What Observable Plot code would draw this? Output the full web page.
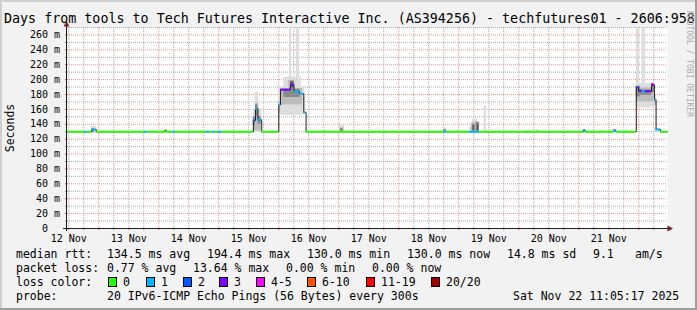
<!DOCTYPE html>
<html><head><meta charset="utf-8">
<script src="https://cdn.jsdelivr.net/npm/d3@7"></script>
<script src="https://cdn.jsdelivr.net/npm/@observablehq/plot@0.6"></script>
<style>
html,body{margin:0;padding:0;background:#f2f2f2;overflow:hidden;}
#chart svg{display:block;}
</style></head><body><div id="chart"></div>
<script>
(function () {
const MONO = "'DejaVu Sans Mono', monospace";

// ---------- data ----------
const startTime = "11-12 11:29";
const endTime = "11-22 11:29";
const titleText = "Days from tools to Tech Futures Interactive Inc. (AS394256) - techfutures01 - 2606:9580";
const yAxisTitle = "Seconds";
const watermark = "RRDTOOL / TOBI OETIKER";
const yTicks = [0, 20, 40, 60, 80, 100, 120, 140, 160, 180, 200, 220, 240, 260];
const yMinorTicks = [10, 30, 50, 70, 90, 110, 130, 150, 170, 190, 210, 230, 250, 270];
const xTickLabels = ["12 Nov", "13 Nov", "14 Nov", "15 Nov", "16 Nov", "17 Nov", "18 Nov", "19 Nov", "20 Nov", "21 Nov"];

// median rtt (ms) as steps: [from, value, lost pings]
const medianSteps = [
  ["11-12 11:29", 130, 0],
  ["11-12 18:15", 130, 1],
  ["11-12 19:15", 130, 0],
  ["11-12 21:15", 133, 1],
  ["11-12 23:00", 130, 0],
  ["11-13 18:15", 130, 1],
  ["11-13 19:05", 130, 0],
  ["11-14 02:30", 132, 0],
  ["11-14 03:00", 130, 0],
  ["11-14 05:30", 130, 1],
  ["11-14 06:30", 130, 0],
  ["11-14 19:05", 130, 1],
  ["11-14 20:15", 130, 0],
  ["11-14 21:30", 130, 1],
  ["11-14 22:15", 130, 0],
  ["11-14 23:30", 130, 1],
  ["11-15 01:05", 130, 0],
  ["11-15 13:50", 145, 2],
  ["11-15 14:40", 161, 1],
  ["11-15 15:40", 146, 1],
  ["11-15 17:10", 130, 0],
  ["11-16 00:00", 166, 1],
  ["11-16 00:40", 186.5, 3],
  ["11-16 04:40", 193, 3],
  ["11-16 06:05", 184, 1],
  ["11-16 08:15", 181, 1],
  ["11-16 10:00", 156, 1],
  ["11-16 10:55", 130, 0],
  ["11-18 18:00", 130, 1],
  ["11-18 19:00", 130, 0],
  ["11-19 04:15", 130, 1],
  ["11-19 08:15", 130, 0],
  ["11-21 01:50", 132, 1],
  ["11-21 02:40", 130, 0],
  ["11-21 13:50", 131, 1],
  ["11-21 15:05", 130, 0],
  ["11-21 23:00", 190, 2],
  ["11-21 23:55", 185, 3],
  ["11-22 01:20", 185, 1],
  ["11-22 02:40", 184.5, 3],
  ["11-22 05:05", 193, 3],
  ["11-22 06:15", 173, 1],
  ["11-22 06:55", 133, 1],
  ["11-22 08:40", 130, 0]
];

// smoke (spread of the 20 pings): [from, to, low ms, high ms]
const smokeOuter = [
  ["11-12 21:00", "11-12 23:00", 128, 137],
  ["11-14 02:20", "11-14 03:10", 129, 133],
  ["11-15 13:50", "11-15 17:10", 129, 160],
  ["11-15 14:30", "11-15 16:00", 129, 183],
  ["11-16 00:00", "11-16 10:30", 152, 190],
  ["11-16 02:00", "11-16 09:00", 155, 203],
  ["11-16 04:15", "11-16 05:05", 180, 300],
  ["11-16 07:00", "11-16 08:15", 180, 300],
  ["11-16 17:50", "11-16 19:05", 129, 132],
  ["11-17 00:15", "11-17 02:15", 129, 138],
  ["11-18 17:50", "11-18 19:05", 129, 134],
  ["11-18 23:05", "11-19 00:15", 129, 131.5],
  ["11-19 04:15", "11-19 08:15", 129, 137],
  ["11-19 05:30", "11-19 07:30", 129, 147],
  ["11-19 10:10", "11-19 11:05", 130, 164],
  ["11-20 03:05", "11-20 04:40", 129, 132],
  ["11-20 07:05", "11-20 08:15", 129, 133],
  ["11-21 08:40", "11-21 10:15", 129, 131.5],
  ["11-21 18:40", "11-21 19:50", 129, 132],
  ["11-21 23:00", "11-22 06:15", 162, 195],
  ["11-21 23:05", "11-22 00:15", 165, 300],
  ["11-22 01:20", "11-22 02:40", 165, 300],
  ["11-22 06:15", "11-22 08:40", 129, 134]
];
const smokeMiddle = [
  ["11-15 13:50", "11-15 17:00", 131, 150],
  ["11-15 14:40", "11-15 16:00", 134, 168],
  ["11-16 00:00", "11-16 00:40", 155, 170],
  ["11-16 00:40", "11-16 09:30", 166, 188],
  ["11-16 04:00", "11-16 06:30", 172, 199],
  ["11-17 00:40", "11-17 02:00", 129, 135],
  ["11-19 05:00", "11-19 08:15", 129, 142],
  ["11-21 23:00", "11-22 06:00", 170, 189],
  ["11-22 06:15", "11-22 06:55", 165, 180]
];
const smokeInner = [
  ["11-12 21:15", "11-12 22:15", 129, 134],
  ["11-15 13:50", "11-15 14:40", 138, 150],
  ["11-15 14:40", "11-15 15:40", 150, 166],
  ["11-15 15:40", "11-15 17:00", 140, 150],
  ["11-16 02:00", "11-16 08:30", 176, 187],
  ["11-16 04:40", "11-16 06:05", 186, 198],
  ["11-17 00:40", "11-17 01:50", 130, 134],
  ["11-18 18:00", "11-18 19:00", 129, 133],
  ["11-19 05:30", "11-19 06:30", 130, 140],
  ["11-19 07:00", "11-19 08:15", 130, 143],
  ["11-21 01:50", "11-21 02:40", 129, 133],
  ["11-21 13:50", "11-21 15:05", 129, 133],
  ["11-21 23:00", "11-22 00:40", 177, 191],
  ["11-22 00:40", "11-22 05:05", 179, 186],
  ["11-22 05:05", "11-22 06:15", 182, 195]
];
const smokeCore = [
  ["11-16 04:50", "11-16 06:00", 189, 197],
  ["11-19 05:45", "11-19 06:20", 132, 138],
  ["11-19 07:20", "11-19 08:00", 132, 139]
];

// legend
const rttStats = ["134.5 ms avg", "194.4 ms max", "130.0 ms min", "130.0 ms now", "14.8 ms sd", "9.1", "am/s"];
const lossStats = ["0.77 % avg", "13.64 % max", "0.00 % min", "0.00 % now"];
const lossLabels = ["0", "1", "2", "3", "4-5", "6-10", "11-19", "20/20"];
const lossColors = ["#26ff00", "#00b8ff", "#0059ff", "#7e00ff", "#ff00ff", "#ff5500", "#ff0000", "#a00000"];
const probeText = "20 IPv6-ICMP Echo Pings (56 Bytes) every 300s";
const stampText = "Sat Nov 22 11:05:17 2025";

// ---------- build ----------
const parse = d3.utcParse("%Y-%m-%d %H:%M");
const T = s => parse("2025-" + s);
const t0 = T(startTime), t1 = T(endTime);
const lossIndex = n => n <= 3 ? n : n <= 5 ? 4 : n <= 10 ? 5 : n < 20 ? 6 : 7;

const steps = medianSteps.map(([from, v, loss], i) => ({
  x1: T(from),
  x2: i + 1 < medianSteps.length ? T(medianSteps[i + 1][0]) : t1,
  v, color: lossColors[lossIndex(loss)]
}));
const linePts = steps.map(d => ({t: d.x1, v: d.v})).concat([{t: t1, v: steps[steps.length - 1].v}]);
const smoke = (arr, fill) => Plot.rect(arr, {
  x1: d => T(d[0]), x2: d => T(d[1]), y1: d => d[2], y2: d => d[3], fill, clip: true
});

const xLabelDates = xTickLabels.map(l => d3.utcParse("%d %b %Y %H:%M")(l + " 2025 12:00"));
const labelOf = new Map(xLabelDates.map((d, i) => [+d, xTickLabels[i]]));
const sixHours = d3.utcHour.every(6).range(t0, t1);
const minorX = sixHours.filter(d => d.getUTCHours() !== 0);
const majorX = sixHours.filter(d => d.getUTCHours() === 0);

const GRID = "rgb(143,143,143)", MGRID = "rgb(222,79,79)";

const plot = Plot.plot({
  width: 697, height: 310,
  marginLeft: 67, marginRight: 30, marginTop: 27, marginBottom: 82,
  style: {background: "#f2f2f2", fontFamily: MONO, fontSize: "10px", color: "#000", overflow: "visible"},
  x: {type: "utc", domain: [t0, t1]},
  y: {type: "linear", domain: [0, 270]},
  color: {type: "identity"},
  marks: [
    Plot.frame({fill: "#ffffff", stroke: "none"}),
    Plot.gridY(yMinorTicks, {stroke: GRID, strokeOpacity: 0.75, strokeDasharray: "1,1"}),
    Plot.gridX(minorX, {stroke: GRID, strokeOpacity: 0.75, strokeDasharray: "1,1"}),
    Plot.gridY(yTicks.filter(d => d > 0), {stroke: MGRID, strokeOpacity: 0.6, strokeDasharray: "1,1"}),
    Plot.gridX(majorX, {stroke: MGRID, strokeOpacity: 0.6, strokeDasharray: "1,1"}),
    smoke(smokeOuter, "#dddddd"),
    smoke(smokeMiddle, "#bcbcbc"),
    smoke(smokeInner, "#8a8a8a"),
    smoke(smokeCore, "#555555"),
    Plot.line(linePts, {x: "t", y: "v", curve: "step-after", stroke: "#202020", strokeWidth: 1}),
    Plot.ruleY(steps, {y: "v", x1: "x1", x2: "x2", stroke: "color", strokeWidth: 2}),
    Plot.axisY(yTicks, {tickSize: 0, tickPadding: 7.5, fontSize: 10, label: null,
      tickFormat: d => d === 0 ? "0\u00a0\u00a0" : d + " m"}),
    Plot.axisY(yMinorTicks.filter(d => d < 270), {tickSize: 2, stroke: GRID, tickFormat: () => "", label: null}),
    Plot.axisY(yTicks, {tickSize: 2, stroke: MGRID, tickFormat: () => "", label: null}),
    Plot.axisX(xLabelDates, {tickSize: 0, tickPadding: 6, fontSize: 10, label: null,
      tickFormat: d => labelOf.get(+d)}),
    Plot.axisX(minorX, {tickSize: 2, stroke: GRID, tickFormat: () => "", label: null}),
    Plot.axisX(majorX, {tickSize: 2, stroke: MGRID, tickFormat: () => "", label: null})
  ]
});
document.getElementById("chart").appendChild(plot);

// ---------- rrdtool-style decorations ----------
const svg = d3.select(plot);
const sx = plot.scale("x"), sy = plot.scale("y");
const xL = sx.apply(t0), xR = sx.apply(t1), yB = sy.apply(0), yT = sy.apply(270);
const g = svg.append("g").attr("font-family", MONO).attr("fill", "#000").attr("text-anchor", "start");

// axes with arrows
g.append("line").attr("x1", xL - 0.5).attr("x2", xL - 0.5).attr("y1", yB + 3).attr("y2", yT - 4)
  .attr("stroke", "#1f1f1f");
g.append("line").attr("x1", xL - 4).attr("x2", xR + 1).attr("y1", yB + 0.5).attr("y2", yB + 0.5)
  .attr("stroke", "#1f1f1f");
g.append("path").attr("d", `M${xL - 3.5},${yT - 0.5}L${xL + 2.5},${yT - 0.5}L${xL - 0.5},${yT - 6}Z`).attr("fill", "#7f1f1f");
g.append("path").attr("d", `M${xR + 0.5},${yB - 2.5}L${xR + 0.5},${yB + 3.5}L${xR + 6},${yB + 0.5}Z`).attr("fill", "#7f1f1f");

// title, axis title, watermark
g.append("text").attr("x", 4).attr("y", 23).attr("font-size", 13.35).text(titleText);
g.append("text").attr("transform", "translate(14,128) rotate(-90)").attr("text-anchor", "middle")
  .attr("font-size", 11.5).text(yAxisTitle);
g.append("text").attr("transform", "translate(687,64) rotate(90)").attr("text-anchor", "middle")
  .attr("font-size", 8).attr("fill", "#acacac").text(watermark);

// legend
const L = (x, y, s) => g.append("text").attr("x", x).attr("y", y).attr("font-size", 11.5).text(s);
L(16, 258, "median rtt:");
[107, 207, 307, 407, 507, 593, 635].forEach((x, i) => L(x, 258, rttStats[i]));
L(16, 272, "packet loss:");
[107, 193, 286, 372].forEach((x, i) => L(x, 272, lossStats[i]));
L(16, 286, "loss color:");
const boxX = [108, 146, 183, 219, 256, 307, 366, 431];
boxX.forEach((x, i) => {
  g.append("rect").attr("x", x + 0.5).attr("y", 277.5).attr("width", 8).attr("height", 9)
    .attr("fill", lossColors[i]).attr("stroke", "#000");
  L(x + 15, 286, lossLabels[i]);
});
L(16, 300, "probe:");
L(107, 300, probeText);
L(513, 300, stampText);

// 3D border
g.append("rect").attr("x", 0).attr("y", 0).attr("width", 697).attr("height", 2).attr("fill", "#cfcfcf");
g.append("rect").attr("x", 0).attr("y", 0).attr("width", 2).attr("height", 310).attr("fill", "#cfcfcf");
g.append("rect").attr("x", 0).attr("y", 308).attr("width", 697).attr("height", 2).attr("fill", "#9e9e9e");
g.append("rect").attr("x", 695).attr("y", 0).attr("width", 2).attr("height", 310).attr("fill", "#9e9e9e");
})();
</script></body></html>
